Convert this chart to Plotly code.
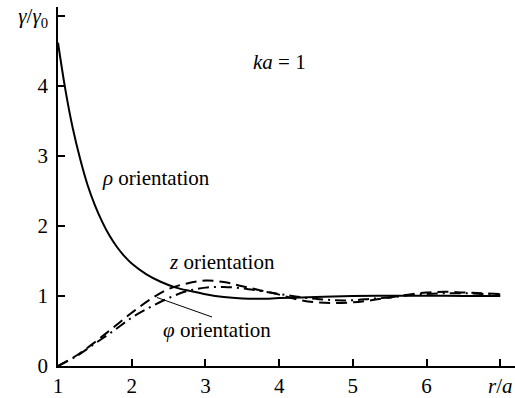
import plotly.graph_objects as go

# Normalised decay rate versus distance for three dipole orientations (ka = 1)
r_rho = [1.0, 1.1, 1.2, 1.3, 1.4, 1.5, 1.6, 1.7, 1.8, 1.9, 2.0, 2.2, 2.4, 2.6, 2.8, 3.0,
         3.25, 3.5, 3.75, 4.0, 4.3, 4.6, 5.0, 5.5, 6.0, 6.5, 7.0]
g_rho = [4.62, 3.95, 3.40, 2.96, 2.59, 2.30, 2.06, 1.86, 1.70, 1.57, 1.465, 1.31, 1.20, 1.12, 1.07, 1.025,
         0.985, 0.965, 0.96, 0.97, 0.98, 0.99, 1.0, 1.005, 1.005, 1.0, 1.0]

r_osc = [1.0, 1.25, 1.5, 1.75, 2.0, 2.25, 2.5, 2.75, 3.0, 3.25, 3.5, 3.75, 4.0, 4.25, 4.5,
         4.75, 5.0, 5.25, 5.5, 5.75, 6.0, 6.25, 6.5, 6.75, 7.0]
g_z = [0.0, 0.15, 0.34, 0.55, 0.76, 0.95, 1.10, 1.18, 1.22, 1.20, 1.14, 1.08, 1.02, 0.95, 0.91,
       0.90, 0.91, 0.94, 0.98, 1.02, 1.05, 1.06, 1.05, 1.04, 1.03]
g_phi = [0.0, 0.14, 0.32, 0.50, 0.69, 0.84, 0.97, 1.07, 1.12, 1.13, 1.11, 1.07, 1.03, 0.99, 0.96,
         0.94, 0.94, 0.96, 0.98, 1.01, 1.03, 1.04, 1.04, 1.03, 1.02]

x_ticks = [1, 2, 3, 4, 5, 6, 7]
x_ticktext = ["1", "2", "3", "4", "5", "6", "<i>r</i>/<i>a</i>"]
y_ticks = [0, 1, 2, 3, 4, 5]
y_ticktext = ["0", "1", "2", "3", "4", "<i>γ</i>/<i>γ</i><sub>0</sub>"]

# Curve labels: (text, x, y)
labels = [
    ("<i>ρ</i> orientation", 2.33, 2.68),
    ("<i>z</i> orientation", 3.22, 1.48),
    ("<i>φ</i> orientation", 3.16, 0.52),
    ("<i>ka</i> = 1", 4.01, 4.34),
]
# Leader line from the φ label to its curve
leader_x = [2.34, 3.09]
leader_y = [0.98, 0.70]

FONT = "'Liberation Serif', 'Times New Roman', 'DejaVu Serif', serif"

fig = go.Figure()
fig.add_trace(go.Scatter(x=r_rho, y=g_rho, mode="lines", line=dict(color="black", width=2, shape="spline")))
fig.add_trace(go.Scatter(x=r_osc, y=g_z, mode="lines",
                         line=dict(color="black", width=2, dash="11px,6px", shape="spline")))
fig.add_trace(go.Scatter(x=r_osc, y=g_phi, mode="lines",
                         line=dict(color="black", width=2, dash="11px,5px,2px,5px", shape="spline")))
fig.add_trace(go.Scatter(x=leader_x, y=leader_y, mode="lines", line=dict(color="black", width=1)))

for text, x, y in labels:
    fig.add_annotation(x=x, y=y, text=text, showarrow=False,
                       font=dict(family=FONT, size=21, color="black"))

axis_common = dict(showline=True, linecolor="black", linewidth=1.5, ticks="inside", ticklen=7,
                   tickcolor="black", tickwidth=1.5, showgrid=False, zeroline=False,
                   tickfont=dict(family=FONT, size=21, color="black"))

fig.update_layout(
    width=515, height=398,
    margin=dict(l=58, r=0, t=7, b=32),
    paper_bgcolor="white", plot_bgcolor="white",
    showlegend=False,
    font=dict(family=FONT),
    xaxis=dict(range=[1, 7.2], tickvals=x_ticks, ticktext=x_ticktext, **axis_common),
    yaxis=dict(range=[0, 5.13], tickvals=y_ticks, ticktext=y_ticktext,
               ticklabelstandoff=4, **axis_common),
)

fig.write_html("out.html")
